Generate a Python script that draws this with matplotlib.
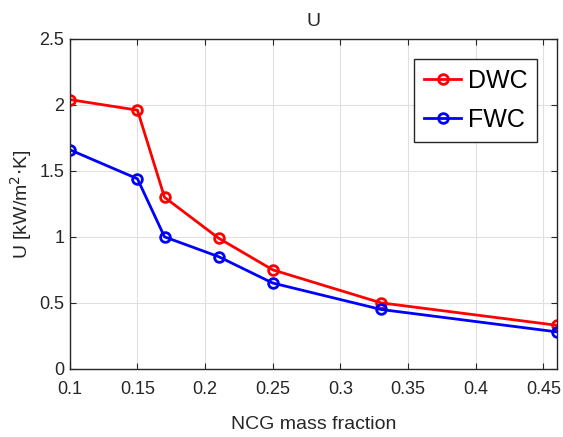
import matplotlib.pyplot as plt

plt.rcParams['font.family'] = ['Liberation Sans Narrow', 'Liberation Sans', 'DejaVu Sans']

ncg = [0.1, 0.15, 0.17, 0.21, 0.25, 0.33, 0.46]
u_dwc = [2.04, 1.96, 1.30, 0.99, 0.75, 0.50, 0.33]
u_fwc = [1.66, 1.44, 1.00, 0.85, 0.65, 0.45, 0.28]
xticks = [0.1, 0.15, 0.2, 0.25, 0.3, 0.35, 0.4, 0.45]
yticks = [0, 0.5, 1, 1.5, 2, 2.5]

fig = plt.figure(figsize=(5.63, 4.37), dpi=100)
ax = fig.add_axes([0.124, 0.156, 0.865, 0.755])

ax.plot(ncg, u_dwc, '-o', color='red', lw=2, ms=7, mfc='none', mew=2, label='DWC')
ax.plot(ncg, u_fwc, '-o', color='blue', lw=2, ms=7, mfc='none', mew=2, label='FWC')

ax.set_xlim(0.1, 0.46)
ax.set_ylim(0, 2.5)
ax.set_xticks(xticks)
ax.set_xticklabels([str(t) for t in xticks])
ax.set_yticks(yticks)
ax.set_yticklabels(['0', '0.5', '1', '1.5', '2', '2.5'])
ax.grid(True, color='#e0e0e0', lw=0.8)
ax.set_axisbelow(True)
ax.tick_params(direction='in', top=True, right=True, labelsize=13, colors='#262626', length=4)
ax.tick_params(axis='x', pad=9)
ax.tick_params(axis='y', pad=4)
for s in ax.spines.values():
    s.set_color('#262626')
    s.set_linewidth(1.0)

ax.set_title('U', fontsize=14, color='#262626', pad=9)
ax.set_xlabel('NCG mass fraction', fontsize=14, color='#262626', labelpad=13)
ax.set_ylabel('U [kW/m$^2$$\\cdot$K]', fontsize=14, color='#262626')
ax.yaxis.set_label_coords(-0.074, 0.5)

leg = ax.legend(loc='upper right', bbox_to_anchor=(0.96, 0.94), fontsize=18,
                fancybox=False, edgecolor='#262626', framealpha=1,
                handlelength=1.5, handletextpad=0.25, borderpad=0.4, labelspacing=0.6,
                borderaxespad=0)
leg.get_frame().set_linewidth(1.0)

fig.savefig('out.png', dpi=100)
